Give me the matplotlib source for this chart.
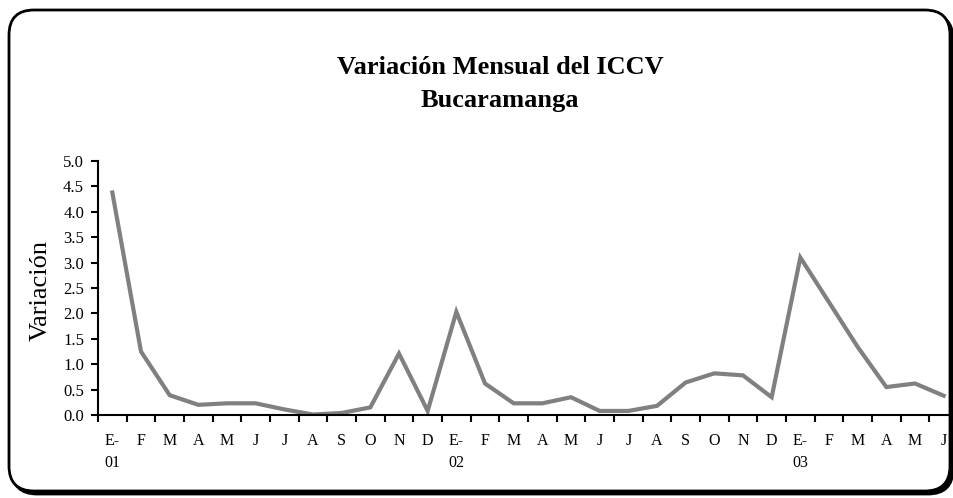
import matplotlib
matplotlib.use("Agg")
import matplotlib.pyplot as plt
from matplotlib.patches import FancyBboxPatch

# monthly ICCV variation, Jan 2001 .. Jun 2003
months = ["E-\n01", "F", "M", "A", "M", "J", "J", "A", "S", "O", "N", "D",
          "E-\n02", "F", "M", "A", "M", "J", "J", "A", "S", "O", "N", "D",
          "E-\n03", "F", "M", "A", "M", "J"]
variacion = [4.38, 1.25, 0.39, 0.20, 0.23, 0.23, 0.11, 0.01, 0.04, 0.15, 1.21, 0.08,
             2.03, 0.62, 0.23, 0.23, 0.35, 0.08, 0.08, 0.18, 0.64, 0.82, 0.78, 0.35,
             3.10, 2.22, 1.34, 0.55, 0.62, 0.38]
yticks = [0.0, 0.5, 1.0, 1.5, 2.0, 2.5, 3.0, 3.5, 4.0, 4.5, 5.0]

plt.rcParams['font.family'] = ['Liberation Serif', 'DejaVu Serif']

fig = plt.figure(figsize=(9.54, 4.98), dpi=100)

# rounded frame with shadow (inch coordinates)
shadow = FancyBboxPatch((0.12, 0.04), 9.41, 4.80, boxstyle="round,pad=0,rounding_size=0.25",
                        transform=fig.dpi_scale_trans, facecolor="black", edgecolor="black",
                        linewidth=2, zorder=-2)
frame = FancyBboxPatch((0.09, 0.07), 9.41, 4.81, boxstyle="round,pad=0,rounding_size=0.25",
                       transform=fig.dpi_scale_trans, facecolor="white", edgecolor="black",
                       linewidth=2, zorder=-1)
fig.patches.extend([shadow, frame])

ax = fig.add_axes([98 / 954, 83 / 498, 860 / 954, 254 / 498])
ax.set_facecolor("none")
x = list(range(len(variacion)))
ax.plot(x, variacion, color="#808080", linewidth=3, solid_joinstyle="miter")

ax.set_xlim(-0.5, len(variacion) - 0.5)
ax.set_ylim(0, 5)
ax.set_yticks(yticks)
ax.set_yticklabels(["{:.1f}".format(v) for v in yticks], fontsize=12)

# labels at category centres, tick marks between categories
ax.set_xticks(x)
ax.set_xticklabels(months, fontsize=11.5, linespacing=1.5, va="top", ha="center")
ax.set_xticks([i - 0.5 for i in range(len(variacion) + 1)], minor=True)
ax.tick_params(axis="x", which="major", length=0, pad=13)
ax.tick_params(axis="x", which="minor", direction="out", length=5, width=1.5)
ax.tick_params(axis="y", direction="out", length=5, width=1.5, pad=5)

ax.spines["top"].set_visible(False)
ax.spines["right"].set_visible(False)
ax.spines["left"].set_linewidth(1.5)
ax.spines["bottom"].set_linewidth(1.5)

ax.set_ylabel("Variación", fontsize=19)
ax.yaxis.set_label_coords(-0.054, 0.49)

fig.text(0.524, 0.831, "Variación Mensual del ICCV\nBucaramanga", ha="center", va="center",
         fontsize=19, fontweight="bold", linespacing=1.55)

fig.savefig("out.png", dpi=100)
